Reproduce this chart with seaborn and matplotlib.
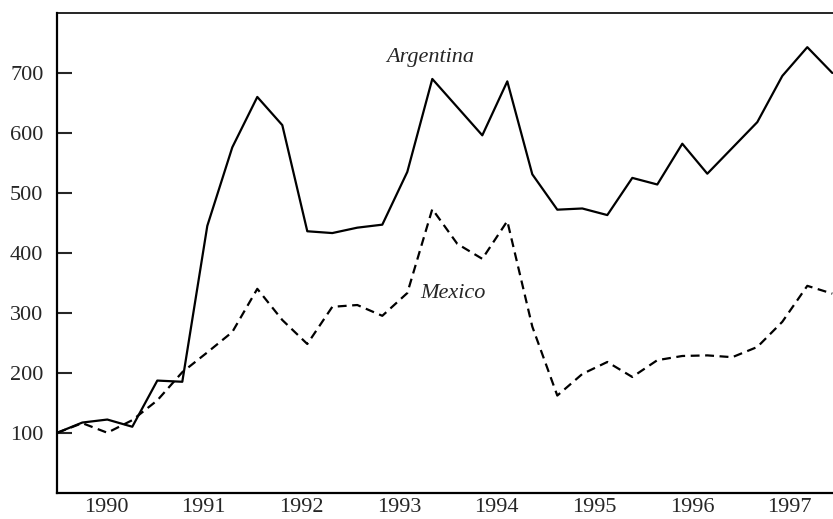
import matplotlib
matplotlib.use("Agg")
import matplotlib.pyplot as plt
import seaborn as sns
import pandas as pd
import numpy as np

# Quarterly index values, 1990Q1 .. 1997Q4
quarters = list(range(32))
argentina = [100, 117, 122, 110, 187, 185, 445, 576, 660, 613, 436, 433,
             442, 447, 535, 690, 643, 596, 686, 531, 472, 474, 463, 525,
             514, 582, 532, 575, 618, 695, 743, 700]
mexico = [100, 116, 100, 121, 154, 201, 234, 268, 340, 288, 248, 310,
          313, 295, 333, 473, 415, 390, 453, 277, 162, 198, 218, 193,
          221, 228, 229, 226, 243, 285, 345, 332]
years = ["1990", "1991", "1992", "1993", "1994", "1995", "1996", "1997"]
y_ticks = [100, 200, 300, 400, 500, 600, 700]

df = pd.DataFrame({
    "q": quarters * 2,
    "value": argentina + mexico,
    "country": ["Argentina"] * len(argentina) + ["Mexico"] * len(mexico),
})

sns.set_style("white")
plt.rcParams["font.family"] = ["Liberation Serif", "DejaVu Serif"]

W, H = 833, 519
fig = plt.figure(figsize=(W / 100, H / 100), dpi=100)
left_px, right_px, top_px, bottom_px = 57.3, 833, 13, 492.7
ax = fig.add_axes([left_px / W, (H - bottom_px) / H,
                   (right_px - left_px) / W, (bottom_px - top_px) / H])

sns.lineplot(data=df, x="q", y="value", style="country",
             dashes={"Argentina": "", "Mexico": (4, 2.5)},
             color="black", linewidth=1.6, legend=False, ax=ax,
             sort=False, estimator=None)

ax.set_xlim(0, (right_px - left_px) / 25.0)
ax.set_ylim(0, 800)

year_w = 97.67 / 25.0  # year width in quarter-index units
ax.set_xticks([year_w * k for k in range(1, 8)])
ax.set_xticklabels([])
ax.set_xticks([year_w * (k + 0.5) for k in range(8)], minor=True)
ax.set_xticklabels(years, minor=True)
ax.tick_params(axis="x", which="major", direction="in", length=9, width=1.5)
ax.tick_params(axis="x", which="minor", length=0, pad=4, labelsize=16)

ax.set_yticks(y_ticks)
ax.set_yticklabels([str(v) for v in y_ticks])
ax.tick_params(axis="y", direction="in", length=11, width=1.5, pad=10,
               labelsize=16, left=True)

for s in ["left", "bottom"]:
    ax.spines[s].set_linewidth(1.6)
    ax.spines[s].set_color("black")
ax.spines["top"].set_linewidth(1.2)
ax.spines["top"].set_color("black")
ax.spines["right"].set_visible(False)

ax.set_xlabel("")
ax.set_ylabel("")

ax.text(14.93, 726, "Argentina", style="italic", fontsize=16,
        ha="center", va="center")
ax.text(15.84, 332, "Mexico", style="italic", fontsize=16,
        ha="center", va="center")

fig.savefig("out.png", dpi=100)
